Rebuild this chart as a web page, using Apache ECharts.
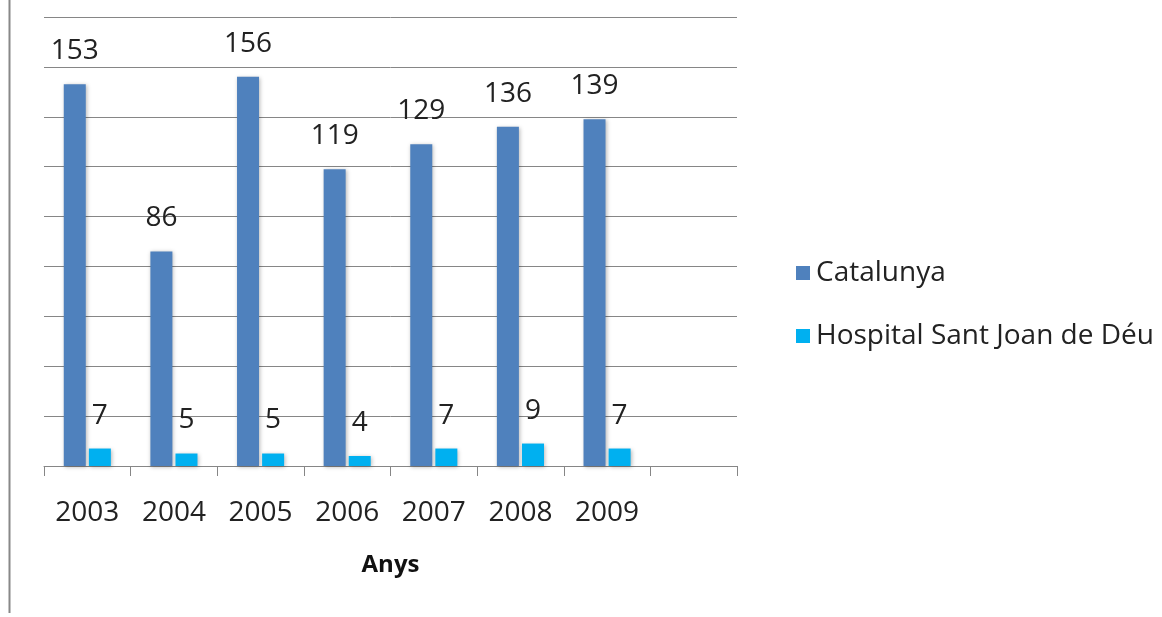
<!DOCTYPE html>
<html>
<head>
<meta charset="utf-8">
<script src="https://cdn.jsdelivr.net/npm/echarts@6/dist/echarts.min.js"></script>
<style>
html,body{margin:0;padding:0;background:#fff;}
#chart{width:1162px;height:617px;}
</style>
</head>
<body>
<div id="chart"></div>
<script>
const categories = ['2003','2004','2005','2006','2007','2008','2009',''];
const catalunya = [153, 86, 156, 119, 129, 136, 139, null];
const hospital = [7, 5, 5, 4, 7, 9, 7, null];
const seriesNames = ['Catalunya', 'Hospital Sant Joan de Déu'];
const axisTitle = 'Anys';

const FONT = 'Open Sans';
const chart = echarts.init(document.getElementById('chart'), null, {renderer:'canvas'});
const labelStyle = {
  show: true, position: 'top', distance: 19,
  fontFamily: FONT, fontSize: 28, color: '#222'
};
const shadow = {shadowColor:'rgba(0,0,0,0.28)', shadowBlur:4, shadowOffsetX:1, shadowOffsetY:1};
chart.setOption({
  animation: false,
  backgroundColor: '#fff',
  grid: {left: 44, right: 425, top: 17, bottom: 151, containLabel: false},
  legend: {
    orient: 'vertical', left: 791, top: 254,
    itemWidth: 14, itemHeight: 14, itemGap: 35,
    icon: 'rect',
    textStyle: {fontFamily: FONT, fontSize: 28, color: '#222', padding: [0,0,0,1]},
    data: seriesNames
  },
  xAxis: {
    type: 'category', data: categories, boundaryGap: true,
    axisLine: {lineStyle: {color: '#868686', width: 1}},
    axisTick: {show: true, length: 10, interval: 0, lineStyle: {color: '#868686'}},
    axisLabel: {fontFamily: FONT, fontSize: 28, color: '#222', margin: 33, interval: 0},
    name: axisTitle, nameLocation: 'middle', nameGap: 87,
    nameTextStyle: {fontFamily: FONT, fontSize: 24, fontWeight: 'bold', color: '#111'}
  },
  yAxis: {
    type: 'value', min: 0, max: 180, interval: 20,
    axisLabel: {show: false}, axisLine: {show: false}, axisTick: {show: false},
    splitLine: {lineStyle: {color: '#868686', width: 1}}
  },
  graphic: [{
    type: 'line', shape: {x1: 9.5, y1: 0, x2: 9.5, y2: 613},
    style: {stroke: '#888', lineWidth: 2}
  }],
  series: [
    {name: seriesNames[0], type: 'bar', data: catalunya, barWidth: 22, barGap: '14%',
     itemStyle: Object.assign({color: '#4F81BD'}, shadow), label: labelStyle},
    {name: seriesNames[1], type: 'bar', data: hospital, barWidth: 22, barGap: '14%',
     itemStyle: Object.assign({color: '#00B0F0'}, shadow), label: labelStyle}
  ]
});
</script>
</body>
</html>
